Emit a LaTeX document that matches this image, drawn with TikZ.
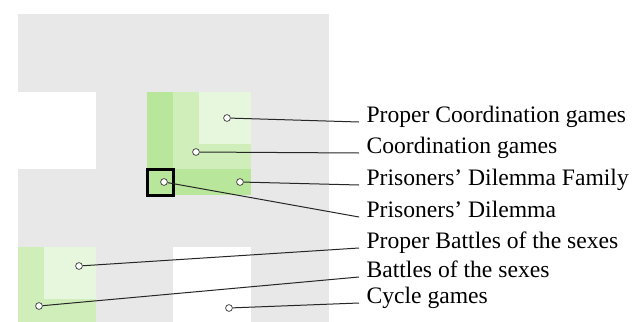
\documentclass[tikz,border=0pt]{standalone}
\usepackage{fontspec}
\setmainfont{Liberation Serif}
\usepackage{tikz}
\usetikzlibrary{positioning}

\definecolor{bggray}{RGB}{232,232,232}
\definecolor{greenA}{RGB}{184,230,154}
\definecolor{greenB}{RGB}{208,238,186}
\definecolor{greenC}{RGB}{231,247,222}

\begin{document}
\begin{tikzpicture}[x=0.5pt,y=-0.5pt]
    \useasboundingbox (0,0) rectangle (634,322);
    \tikzset{
        gamedot/.style={circle,draw=black!70,fill=white,line width=0.4pt,inner sep=0pt,minimum size=3.4pt},
        gamelabel/.style={anchor=base west,inner xsep=3.6pt,inner ysep=0pt,font=\fontsize{11.8}{14}\selectfont},
        pointer/.style={draw=black!85,line width=0.5pt}
    }

    % grid of game classes, one cell = 25.9px
    \begin{scope}[shift={(18,14)},x=12.95pt,y=-12.95pt]
        \fill[bggray] (0,0) rectangle (12,12);
        \fill[white] (0,3) rectangle (3,6);
        \fill[white] (6,9) rectangle (9,12);
        % prisoners' dilemma family and coordination games
        \fill[greenA] (5,3) rectangle (6,7);
        \fill[greenA] (5,6) rectangle (9,7);
        \fill[greenB] (6,3) rectangle (9,6);
        \fill[greenC] (7,3) rectangle (9,5);
        % battles of the sexes
        \fill[greenB] (0,9) rectangle (3,12);
        \fill[greenC] (1,9) rectangle (3,11);
        \draw[line width=1.5pt] (5,6) rectangle (6,7);
    \end{scope}

    % dots
    \node[gamedot] (pcg) at (227,118) {};
    \node[gamedot] (cg) at (196,152) {};
    \node[gamedot] (pdf) at (240,182) {};
    \node[gamedot] (pd) at (164,182) {};
    \node[gamedot] (pbs) at (79,266) {};
    \node[gamedot] (bs) at (39,306) {};
    \node[gamedot] (cyc) at (229,308) {};

    % labels
    \node[gamelabel] (Lpcg) at (359,122) {Proper Coordination games};
    \node[gamelabel] (Lcg) at (359,153) {Coordination games};
    \node[gamelabel] (Lpdf) at (359,185) {Prisoners’ Dilemma Family};
    \node[gamelabel] (Lpd) at (359,217) {Prisoners’ Dilemma};
    \node[gamelabel] (Lpbs) at (359,248) {Proper Battles of the sexes};
    \node[gamelabel] (Lbs) at (359,277) {Battles of the sexes};
    \node[gamelabel] (Lcyc) at (359,303) {Cycle games};

    % pointers
    \draw[pointer] (pcg) -- (Lpcg.base west);
    \draw[pointer] (cg) -- (Lcg.base west);
    \draw[pointer] (pdf) -- (Lpdf.base west);
    \draw[pointer] (pd) -- (Lpd.base west);
    \draw[pointer] (pbs) -- (Lpbs.base west);
    \draw[pointer] (bs) -- (Lbs.base west);
    \draw[pointer] (cyc) -- (Lcyc.base west);

\end{tikzpicture}
\end{document}
